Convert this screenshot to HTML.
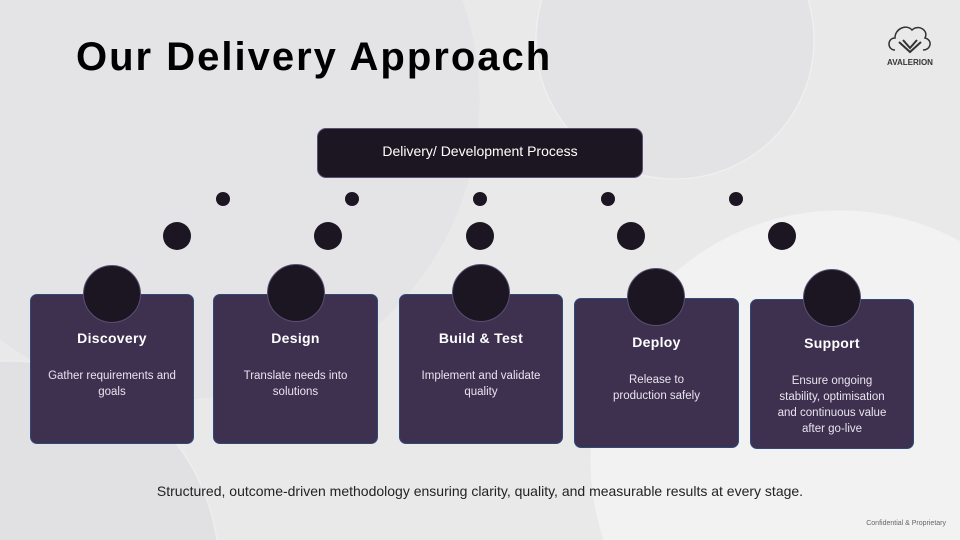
<!DOCTYPE html>
<html><head><style>
html,body{margin:0;width:960px;height:540px;overflow:hidden}
body{background:#e9e9ea;font-family:"Liberation Sans",sans-serif}
#w{position:relative;width:960px;height:540px;overflow:hidden;
background:
radial-gradient(circle 250px at 840px 460px,#f2f2f3 249px,rgba(0,0,0,0) 250px),
radial-gradient(circle 140px at 675px 40px,#e3e3e5 138px,#f2f2f2 139px,rgba(0,0,0,0) 140px),
radial-gradient(circle 210px at 10px 570px,#e1e1e3 208px,#f0f0f0 209px,rgba(0,0,0,0) 210px),
radial-gradient(circle 300px at 180px 100px,#e4e4e6 299px,rgba(0,0,0,0) 300px),
#e9e9ea}
.a{position:absolute}
.card{position:absolute;background:#3e3150;border:1px solid #2f4a78;border-radius:7px;box-sizing:border-box;color:#fff;text-align:center}
.card h3{margin:0;position:absolute;top:35px;width:100%;font-size:14px;font-weight:bold;letter-spacing:.3px}
.card p{margin:0;position:absolute;top:73px;left:16px;right:16px;font-size:11.5px;line-height:16px;color:#e8e4ee}
.c{position:absolute;border-radius:50%;background:#1c1622}
.big{width:58px;height:58px;border:1px solid #5a4f72;box-sizing:border-box}
</style></head><body><div id="w">
<div class="a" style="left:76px;top:34px;font-size:40px;line-height:46px;font-weight:bold;color:#000;letter-spacing:2px">Our Delivery Approach</div>
<svg class="a" style="left:885px;top:20px" width="50" height="50" viewBox="0 0 50 50"><path d="M10 30 C2 30 2 18 10 18 C10 8 22 4 27 10 C33 4 44 10 40 18 C48 20 46 30 38 30" fill="none" stroke="#333" stroke-width="1.5"/><path d="M14 22 L25 32 L36 22 M18 20 L25 28 L32 20" fill="none" stroke="#333" stroke-width="2"/><text x="25" y="45" font-size="8" font-weight="bold" text-anchor="middle" fill="#333" font-family="Liberation Sans">AVALERION</text></svg>
<div class="a" style="left:317px;top:128px;width:326px;height:50px;box-sizing:border-box;background:#1c1622;border:1px solid #5a4f72;border-radius:9px;color:#fff;font-size:14px;text-align:center;line-height:44px">Delivery/ Development Process</div>
<div class="c" style="left:216px;top:192px;width:14px;height:14px"></div>
<div class="c" style="left:345px;top:192px;width:14px;height:14px"></div>
<div class="c" style="left:473px;top:192px;width:14px;height:14px"></div>
<div class="c" style="left:601px;top:192px;width:14px;height:14px"></div>
<div class="c" style="left:729px;top:192px;width:14px;height:14px"></div>
<div class="c" style="left:163px;top:222px;width:28px;height:28px"></div>
<div class="c" style="left:314px;top:222px;width:28px;height:28px"></div>
<div class="c" style="left:466px;top:222px;width:28px;height:28px"></div>
<div class="c" style="left:617px;top:222px;width:28px;height:28px"></div>
<div class="c" style="left:768px;top:222px;width:28px;height:28px"></div>
<div class="card" style="left:30px;top:294px;width:164px;height:150px"><h3>Discovery</h3><p>Gather requirements and goals</p></div>
<div class="card" style="left:213px;top:294px;width:165px;height:150px"><h3>Design</h3><p>Translate needs into solutions</p></div>
<div class="card" style="left:399px;top:294px;width:164px;height:150px"><h3>Build &amp; Test</h3><p>Implement and validate quality</p></div>
<div class="card" style="left:574px;top:298px;width:165px;height:150px"><h3>Deploy</h3><p style="left:30px;right:30px">Release to production safely</p></div>
<div class="card" style="left:750px;top:299px;width:164px;height:150px"><h3>Support</h3><p style="left:20px;right:20px">Ensure ongoing stability, optimisation and continuous value after go-live</p></div>
<div class="c big" style="left:83px;top:265px"></div>
<div class="c big" style="left:267px;top:264px"></div>
<div class="c big" style="left:452px;top:264px"></div>
<div class="c big" style="left:627px;top:268px"></div>
<div class="c big" style="left:803px;top:269px"></div>
<div class="a" style="left:0;width:960px;top:482px;line-height:18px;text-align:center;font-size:14px;color:#222">Structured, outcome-driven methodology ensuring clarity, quality, and measurable results at every stage.</div>
<div class="a" style="right:14px;top:519px;line-height:9px;font-size:7px;color:#666">Confidential &amp; Proprietary</div>
</div></body></html>
